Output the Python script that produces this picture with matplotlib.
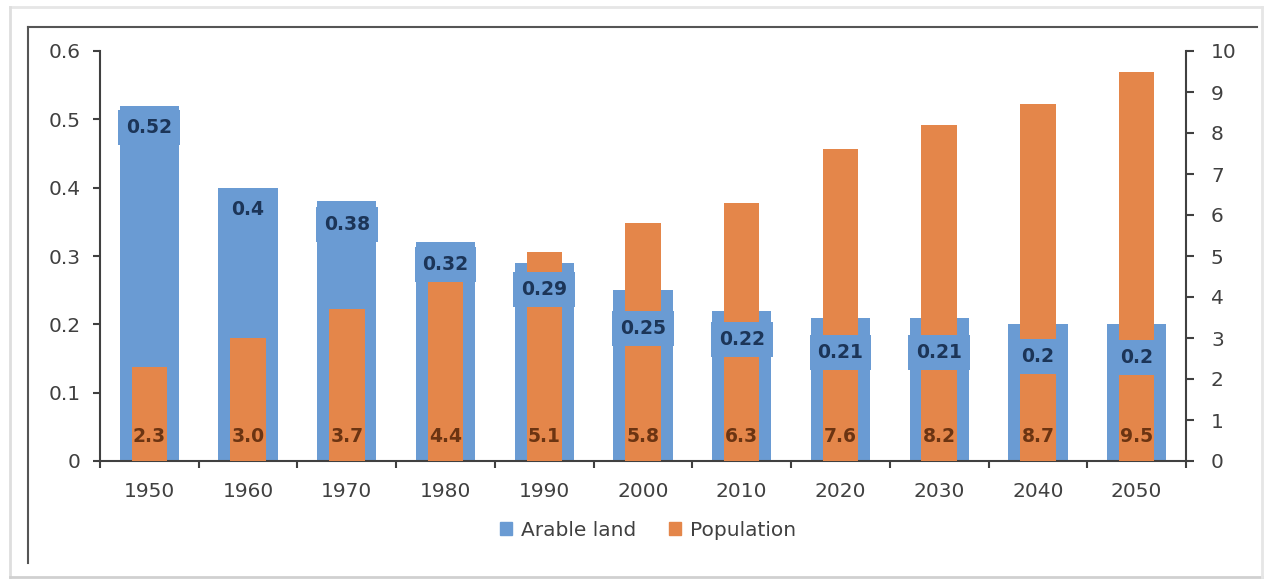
import matplotlib
matplotlib.use("Agg")
import matplotlib.pyplot as plt
from matplotlib.lines import Line2D
from matplotlib.patches import Patch
import numpy as np

years = ["1950", "1960", "1970", "1980", "1990", "2000", "2010", "2020", "2030", "2040", "2050"]
arable_land = [0.52, 0.4, 0.38, 0.32, 0.29, 0.25, 0.22, 0.21, 0.21, 0.2, 0.2]
arable_labels = ["0.52", "0.4", "0.38", "0.32", "0.29", "0.25", "0.22", "0.21", "0.21", "0.2", "0.2"]
population = [2.3, 3.0, 3.7, 4.4, 5.1, 5.8, 6.3, 7.6, 8.2, 8.7, 9.5]
pop_labels = ["2.3", "3.0", "3.7", "4.4", "5.1", "5.8", "6.3", "7.6", "8.2", "8.7", "9.5"]
left_ticks = [0, 0.1, 0.2, 0.3, 0.4, 0.5, 0.6]
left_ticklabels = ["0", "0.1", "0.2", "0.3", "0.4", "0.5", "0.6"]
right_ticks = list(range(0, 11))

# label placement (pixels below bar top), as in the reference
label_drop = [22, 22, 23, 22, 27, 38, 29, 35, 35, 32, 33]

BLUE = "#6a9bd3"
ORANGE = "#e4864a"
TXT = "#404040"
plt.rcParams["font.family"] = ["DejaVu Sans"]

W, H = 1268, 580
fig = plt.figure(figsize=(W / 100, H / 100), dpi=100)
fig.patch.set_facecolor("white")

L, R, B, T = 100, 1186, 461, 51
ax = fig.add_axes([L / W, 1 - B / H, (R - L) / W, (B - T) / H])
ax2 = ax.twinx()

x = np.arange(len(years))
ax.bar(x, arable_land, width=0.6, color=BLUE, zorder=2)
ax2.bar(x, population, width=0.36, color=ORANGE, zorder=2)

ax.set_xlim(-0.5, len(years) - 0.5)
ax.set_ylim(0, 0.6)
ax2.set_ylim(0, 10)

ax.set_yticks(left_ticks)
ax.set_yticklabels(left_ticklabels)
ax2.set_yticks(right_ticks)
ax.set_xticks(x)
ax.set_xticklabels(years)
ax.set_xticks(np.arange(len(years) + 1) - 0.5, minor=True)
ax.tick_params(axis="x", which="major", length=0, pad=15, labelsize=14.5, labelcolor=TXT)
ax.tick_params(axis="x", which="minor", length=5, width=1.5, color="#404040", direction="out")
ax.tick_params(axis="y", length=5, width=1.5, color="#404040", pad=9, labelsize=14.5, labelcolor=TXT)
ax2.tick_params(axis="y", length=6, width=1.5, color="#404040", pad=12, labelsize=14.5, labelcolor=TXT)

for a in (ax, ax2):
    a.spines["top"].set_visible(False)
    for s in ("left", "right", "bottom"):
        a.spines[s].set_color("#404040")
        a.spines[s].set_linewidth(1.5)
ax.spines["right"].set_visible(False)
ax2.spines["left"].set_visible(False)
ax2.spines["bottom"].set_visible(False)

# blue labels (drawn over orange bars)
for xi, v, lab, d in zip(x, arable_land, arable_labels, label_drop):
    ax2.annotate(lab, xy=(xi, v), xycoords=ax.transData, xytext=(0, -d),
                 textcoords="offset pixels", ha="center", va="center",
                 fontsize=13.5, fontweight="bold", color="#1c3558", zorder=5,
                 bbox=dict(boxstyle="square,pad=0.42", fc=BLUE, ec="none"))

# orange labels near base
for xi, v, lab in zip(x, population, pop_labels):
    ax2.annotate(lab, xy=(xi, 0), xytext=(0, 24), textcoords="offset pixels",
                 ha="center", va="center", fontsize=13.5, fontweight="bold",
                 color="#6b3412", zorder=5)

handles = [Patch(color=BLUE, label="Arable land"), Patch(color=ORANGE, label="Population")]
fig.legend(handles=handles, loc="center", bbox_to_anchor=(648 / W, 1 - 530 / H),
           ncol=2, frameon=False, fontsize=14.5, handlelength=0.6, handleheight=0.6,
           columnspacing=1.6, handletextpad=0.45, labelcolor=TXT)

# outer frame lines
def fl(x0, y0, x1, y1, color, lw):
    fig.add_artist(Line2D([x0 / W, x1 / W], [1 - y0 / H, 1 - y1 / H],
                          transform=fig.transFigure, color=color, lw=lw))

fl(10, 7, 1262, 7, "#e6e6e6", 2)
fl(10, 7, 10, 577, "#dedede", 2)
fl(10, 577, 1262, 577, "#d0d0d0", 2)
fl(1262, 7, 1262, 577, "#e6e6e6", 2)
fl(28, 27, 1257, 27, "#555555", 1.5)
fl(28, 27, 28, 563, "#555555", 1.5)

fig.savefig("out.png", dpi=100)
